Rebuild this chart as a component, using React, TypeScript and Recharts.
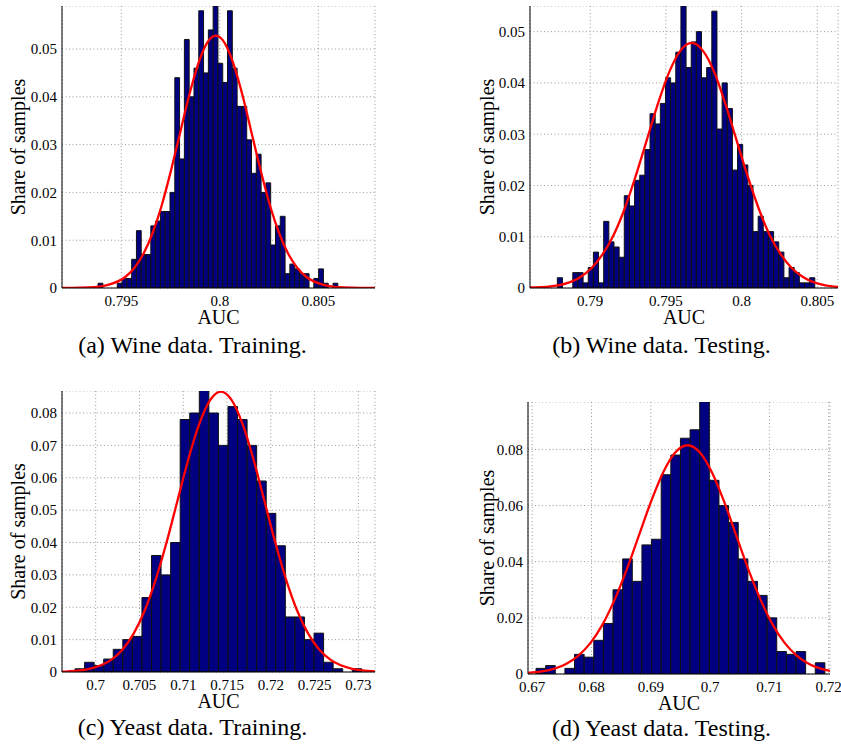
import { ComposedChart, Bar, Line, XAxis, YAxis, CartesianGrid } from 'recharts'

const FONT = '"Liberation Serif", "Times New Roman", serif'

// (a) wine, training: 50 bins
const wineTrainBinStart = 0.793822
const wineTrainBinWidth = 0.0002434
const wineTrainShare = [
  0.001, 0, 0, 0, 0.001, 0.002, 0.002, 0.006, 0.012, 0.007,
  0.007, 0.013, 0.014, 0.016, 0.016, 0.02, 0.044, 0.027, 0.052, 0.04,
  0.046, 0.058, 0.045, 0.054, 0.059, 0.047, 0.043, 0.058, 0.046, 0.038,
  0.038, 0.031, 0.024, 0.028, 0.02, 0.022, 0.009, 0.013, 0.015, 0.003,
  0.005, 0.004, 0.003, 0.003, 0, 0.002, 0.004, 0.001, 0, 0.001,
]
const wineTrainFitX = [
  0.792, 0.79244, 0.79336, 0.79428, 0.7952, 0.79566, 0.79612, 0.79658, 0.79704, 0.7975,
  0.79796, 0.79842, 0.79888, 0.79934, 0.7998, 0.80026, 0.80072, 0.80118, 0.80164, 0.8021,
  0.80256, 0.80302, 0.80348, 0.80394, 0.8044, 0.80532, 0.80624, 0.80716, 0.808,
]
const wineTrainFitY = [
  0, 0, 0.0001, 0.0006, 0.0023, 0.0042, 0.0071, 0.0114, 0.0171, 0.0242,
  0.032, 0.0399, 0.0466, 0.0512, 0.0528, 0.0512, 0.0466, 0.0399, 0.032, 0.0242,
  0.0171, 0.0114, 0.0071, 0.0042, 0.0023, 0.0006, 0.0001, 0, 0,
]

// (b) wine, testing: 50 bins
const wineTestBinStart = 0.787827
const wineTestBinWidth = 0.0003402
const wineTestShare = [
  0.002, 0, 0, 0.003, 0.003, 0.001, 0.004, 0.007, 0.001, 0.013,
  0.009, 0.008, 0.006, 0.018, 0.016, 0.021, 0.022, 0.027, 0.034, 0.032,
  0.036, 0.041, 0.04, 0.046, 0.055, 0.043, 0.048, 0.05, 0.041, 0.043,
  0.054, 0.031, 0.04, 0.035, 0.023, 0.028, 0.024, 0.02, 0.011, 0.014,
  0.011, 0.011, 0.009, 0.007, 0.002, 0.004, 0.003, 0.001, 0.001, 0.002,
]
const wineTestFitX = [
  0.78602, 0.78638, 0.78785, 0.78933, 0.79006, 0.7908, 0.79154, 0.79228, 0.79301, 0.79375,
  0.79449, 0.79523, 0.79596, 0.7967, 0.79744, 0.79818, 0.79891, 0.79965, 0.80039, 0.80113,
  0.80186, 0.8026, 0.80334, 0.80408, 0.80555, 0.80637,
]
const wineTestFitY = [
  0.0001, 0.0001, 0.0005, 0.0021, 0.0038, 0.0065, 0.0103, 0.0155, 0.0219, 0.029,
  0.0361, 0.0422, 0.0463, 0.0478, 0.0463, 0.0422, 0.0361, 0.029, 0.0219, 0.0155,
  0.0103, 0.0065, 0.0038, 0.0021, 0.0005, 0.0002,
]

// (c) yeast, training: 30 bins
const yeastTrainBinStart = 0.697637
const yeastTrainBinWidth = 0.001092
const yeastTrainShare = [
  0.001, 0.003, 0.002, 0.004, 0.007, 0.01, 0.011, 0.023, 0.036, 0.03,
  0.04, 0.078, 0.08, 0.087, 0.08, 0.07, 0.082, 0.078, 0.07, 0.059,
  0.049, 0.039, 0.017, 0.017, 0.01, 0.012, 0.003, 0.001, 0, 0.001,
]
const yeastTrainFitX = [
  0.69615, 0.6968, 0.6993, 0.7018, 0.70305, 0.7043, 0.70555, 0.7068, 0.70805, 0.7093,
  0.71055, 0.7118, 0.71305, 0.7143, 0.71555, 0.7168, 0.71805, 0.7193, 0.72055, 0.7218,
  0.72305, 0.7243, 0.72555, 0.7268, 0.7293, 0.7319,
]
const yeastTrainFitY = [
  0.0001, 0.0002, 0.001, 0.0038, 0.0069, 0.0117, 0.0187, 0.0281, 0.0396, 0.0525,
  0.0654, 0.0764, 0.0839, 0.0866, 0.0839, 0.0764, 0.0654, 0.0525, 0.0396, 0.0281,
  0.0187, 0.0117, 0.0069, 0.0038, 0.001, 0.0002,
]

// (d) yeast, testing: 30 bins
const yeastTestBinStart = 0.67064
const yeastTestBinWidth = 0.001624
const yeastTestShare = [
  0.002, 0.003, 0, 0.002, 0.007, 0.006, 0.012, 0.018, 0.03, 0.041,
  0.033, 0.046, 0.048, 0.071, 0.078, 0.084, 0.087, 0.097, 0.069, 0.06,
  0.054, 0.041, 0.033, 0.028, 0.02, 0.008, 0.007, 0.008, 0, 0.004,
]
const yeastTestFitX = [
  0.66929, 0.6716, 0.6757, 0.67775, 0.6798, 0.68185, 0.6839, 0.68595, 0.688, 0.69005,
  0.6921, 0.69415, 0.6962, 0.69825, 0.7003, 0.70235, 0.7044, 0.70645, 0.7085, 0.71055,
  0.7126, 0.71465, 0.7167, 0.72022,
]
const yeastTestFitY = [
  0.0004, 0.0009, 0.0036, 0.0065, 0.011, 0.0176, 0.0265, 0.0373, 0.0494, 0.0615,
  0.0719, 0.079, 0.0815, 0.079, 0.0719, 0.0615, 0.0494, 0.0373, 0.0265, 0.0176,
  0.011, 0.0065, 0.0036, 0.0011,
]

// ticks
const wineTrainXTicks = [0.795, 0.8, 0.805]
const wineTestXTicks = [0.79, 0.795, 0.8, 0.805]
const wineYTicks = [0, 0.01, 0.02, 0.03, 0.04, 0.05]
const yeastTrainXTicks = [0.7, 0.705, 0.71, 0.715, 0.72, 0.725, 0.73]
const yeastTrainYTicks = [0, 0.01, 0.02, 0.03, 0.04, 0.05, 0.06, 0.07, 0.08]
const yeastTestXTicks = [0.67, 0.68, 0.69, 0.7, 0.71, 0.72]
const yeastTestYTicks = [0, 0.02, 0.04, 0.06, 0.08]

const captions = [
  '(a) Wine data. Training.',
  '(b) Wine data. Testing.',
  '(c) Yeast data. Training.',
  '(d) Yeast data. Testing.',
]

const toBins = (start: number, width: number, share: number[]) =>
  share.map((s, i) => ({ x: start + (i + 0.5) * width, share: s }))

const toCurve = (xs: number[], ys: number[]) => xs.map((x, i) => ({ x, fit: ys[i] }))

interface PanelProps {
  left: number
  top: number
  yAxisW: number
  plotW: number
  plotH: number
  xDomain: [number, number]
  yDomain: [number, number]
  xTicks: number[]
  yTicks: number[]
  binStart: number
  binWidth: number
  share: number[]
  fitX: number[]
  fitY: number[]
  yLabelX: number
}

const XH = 45
const PAGE_W = 841

function HistPanel(p: PanelProps) {
  const bins = toBins(p.binStart, p.binWidth, p.share)
  const curve = toCurve(p.fitX, p.fitY)
  const barPx = (p.plotW * p.binWidth) / (p.xDomain[1] - p.xDomain[0])
  const rightPad = Math.max(2, PAGE_W - (p.left + p.yAxisW + p.plotW))
  const tickStyle = { fill: '#000', fontSize: 15, fontFamily: FONT, style: { fontFamily: FONT } }
  const labelStyle = { fill: '#000', fontSize: 20, fontFamily: FONT }
  return (
    <div style={{ position: 'absolute', left: p.left, top: p.top, fontFamily: FONT }}>
      <ComposedChart
        width={p.yAxisW + p.plotW + rightPad}
        height={p.plotH + XH}
        data={bins}
        margin={{ top: 0, right: rightPad, bottom: 0, left: 0 }}
      >
        <CartesianGrid xAxisId="ax" yAxisId="ay" stroke="#9a9a9a" strokeDasharray="1 2.5" />
        <XAxis xAxisId="bars" dataKey="x" type="number" domain={p.xDomain} allowDataOverflow hide />
        <XAxis
          xAxisId="ax"
          dataKey="x"
          type="number"
          domain={p.xDomain}
          ticks={p.xTicks}
          interval={0}
          allowDataOverflow
          height={XH}
          stroke="#000"
          tickLine={false}
          tickSize={5}
          tickMargin={2}
          tick={tickStyle}
          label={{ value: 'AUC', position: 'insideBottom', offset: 9, style: labelStyle }}
        />
        <YAxis
          yAxisId="ay"
          type="number"
          domain={p.yDomain}
          ticks={p.yTicks}
          interval={0}
          allowDataOverflow
          width={p.yAxisW}
          stroke="#000"
          tickLine={false}
          tickSize={3}
          tickMargin={2}
          tick={tickStyle}
          label={{
            value: 'Share of samples',
            angle: -90,
            position: 'insideLeft',
            offset: p.yLabelX,
            style: { ...labelStyle, textAnchor: 'middle' },
          }}
        />
        <Bar
          xAxisId="bars"
          yAxisId="ay"
          dataKey="share"
          fill="#000080"
          stroke="#111"
          strokeWidth={1}
          barSize={barPx * 0.999}
          isAnimationActive={false}
        />
        <Line
          xAxisId="ax"
          yAxisId="ay"
          data={curve}
          dataKey="fit"
          type="monotone"
          stroke="#ff0000"
          strokeWidth={2.3}
          dot={false}
          activeDot={false}
          isAnimationActive={false}
        />
      </ComposedChart>
    </div>
  )
}

export default function App() {
  return (
    <div style={{ position: 'fixed', left: 0, top: 0, width: 841, height: 749, background: '#fff', overflow: 'hidden', fontFamily: FONT }}>
      <HistPanel
        left={0} top={6} yAxisW={62} plotW={313} plotH={282}
        xDomain={[0.79199, 0.80788]} yDomain={[0, 0.059]}
        xTicks={wineTrainXTicks} yTicks={wineYTicks}
        binStart={wineTrainBinStart} binWidth={wineTrainBinWidth} share={wineTrainShare}
        fitX={wineTrainFitX} fitY={wineTrainFitY} yLabelX={18}
      />
      <HistPanel
        left={470} top={6} yAxisW={60} plotW={308} plotH={282}
        xDomain={[0.78602, 0.80637]} yDomain={[0, 0.055]}
        xTicks={wineTestXTicks} yTicks={wineYTicks}
        binStart={wineTestBinStart} binWidth={wineTestBinWidth} share={wineTestShare}
        fitX={wineTestFitX} fitY={wineTestFitY} yLabelX={17}
      />
      <HistPanel
        left={0} top={391} yAxisW={62} plotW={313} plotH={281}
        xDomain={[0.69615, 0.7319]} yDomain={[0, 0.0868]}
        xTicks={yeastTrainXTicks} yTicks={yeastTrainYTicks}
        binStart={yeastTrainBinStart} binWidth={yeastTrainBinWidth} share={yeastTrainShare}
        fitX={yeastTrainFitX} fitY={yeastTrainFitY} yLabelX={18}
      />
      <HistPanel
        left={470} top={402} yAxisW={58} plotW={302} plotH={272}
        xDomain={[0.66929, 0.72022]} yDomain={[0, 0.0969]}
        xTicks={yeastTestXTicks} yTicks={yeastTestYTicks}
        binStart={yeastTestBinStart} binWidth={yeastTestBinWidth} share={yeastTestShare}
        fitX={yeastTestFitX} fitY={yeastTestFitY} yLabelX={17}
      />
      <svg width={841} height={749} style={{ position: 'absolute', left: 0, top: 0, pointerEvents: 'none' }}>
        <g fontFamily={FONT} fontSize={24} fill="#000" textAnchor="middle">
          <text x={192.5} y={353}>{captions[0]}</text>
          <text x={661.5} y={353}>{captions[1]}</text>
          <text x={192.5} y={735}>{captions[2]}</text>
          <text x={661.5} y={736}>{captions[3]}</text>
        </g>
      </svg>
    </div>
  )
}
